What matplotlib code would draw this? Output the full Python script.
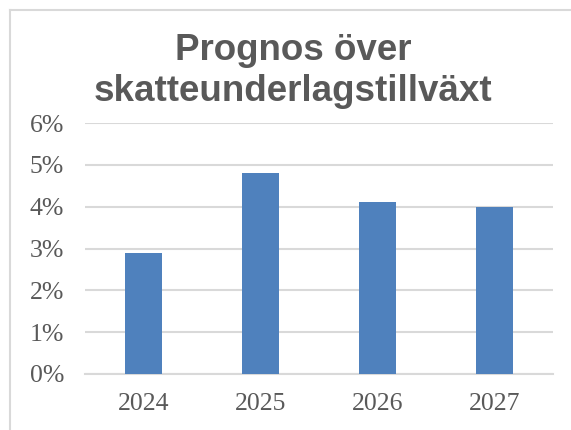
import matplotlib
matplotlib.use("Agg")
import matplotlib.pyplot as plt
from matplotlib.lines import Line2D
from matplotlib.ticker import FuncFormatter

# ── Data ──────────────────────────────────────────────────────────────────────
YEARS  = ["2024", "2025", "2026", "2027"]
GROWTH = [2.9, 4.8, 4.1, 4.0]          # procent
YTICKS = [0, 1, 2, 3, 4, 5, 6]

BAR_COLOR  = "#4F81BD"
GRID_COLOR = "#D9D9D9"
TEXT_COLOR = "#595959"

fig = plt.figure(figsize=(5.71, 4.30), dpi=100)
ax = fig.add_axes([85 / 571, 1 - 374 / 430, 468 / 571, 251 / 430])

x = range(len(YEARS))
ax.bar(x, GROWTH, width=0.32, color=BAR_COLOR, zorder=3)

ax.set_xlim(-0.5, len(YEARS) - 0.5)
ax.set_ylim(0, 6)
ax.set_yticks(YTICKS)
ax.yaxis.set_major_formatter(FuncFormatter(lambda v, _: f"{v:.0f}%"))
ax.set_xticks(list(x))
ax.set_xticklabels(YEARS)

ax.grid(axis="y", color=GRID_COLOR, linewidth=1.5, zorder=0)
for side in ("top", "right", "left"):
    ax.spines[side].set_visible(False)
ax.spines["bottom"].set_color(GRID_COLOR)
ax.spines["bottom"].set_linewidth(1.5)
ax.tick_params(length=0, colors=TEXT_COLOR, labelsize=18.5)
ax.tick_params(axis="x", pad=14)
ax.tick_params(axis="y", pad=15)
for lab in ax.get_xticklabels() + ax.get_yticklabels():
    lab.set_fontfamily("Liberation Serif")

fig.text(0.513, 1 - 71 / 430, "Prognos över\nskatteunderlagstillväxt",
         ha="center", va="center", fontsize=26.5, fontweight="bold",
         color=TEXT_COLOR, family="Liberation Sans", linespacing=1.22)

# light frame round the chart area (top and left edges visible)
fig.add_artist(Line2D([10 / 571, 1], [1 - 10 / 430] * 2, color=GRID_COLOR,
                      linewidth=1.5, transform=fig.transFigure))
fig.add_artist(Line2D([10 / 571] * 2, [0, 1 - 10 / 430], color=GRID_COLOR,
                      linewidth=1.5, transform=fig.transFigure))

fig.savefig("out.png", dpi=100)
